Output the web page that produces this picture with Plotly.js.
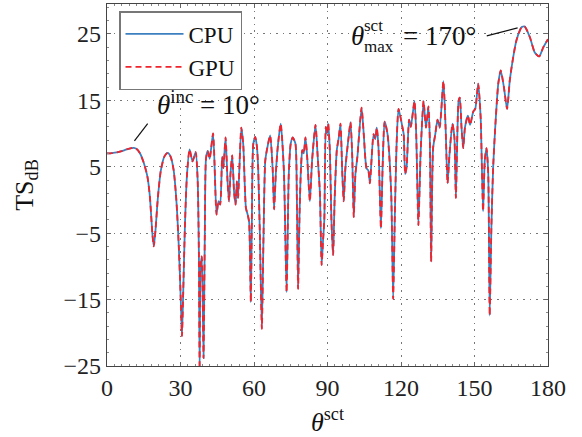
<!DOCTYPE html>
<html>
<head>
<meta charset="utf-8">
<script src="https://cdn.plot.ly/plotly-3.0.1.min.js"></script>
<style>html,body{margin:0;padding:0;background:#fff;}#chart{width:582px;height:437px;}</style>
</head>
<body>
<div id="chart"></div>
<script>
// scattering angle (deg)
const thetaSct = [
 0,2,4,6,8,10,11,12,13.5,15,16.5,17.5,18.5,19.1,19.8,20.8,22,23.5,24.8,26,27.2,28.3,29.3,30.2,30.6,31.1,31.8,32.6,33.7,34.9,36.2,37.0,37.5,37.8,38.2,38.7,39.4,39.9,
 40.4,41.1,41.9,43.3,44.7,45.5,46.2,47.0,47.5,48.4,49.2,49.8,50.4,51.1,51.9,52.5,53.0,53.5,54.8,55.6,56.7,57.4,58.0,58.7,59.1,59.7,60.5,61.2,61.7,62.4,63.2,63.9,64.6,65.5,66.6,67.6,68.2,68.9,69.7,70.9,
 72.2,73.3,74.2,75.0,75.8,76.9,77.5,78.0,78.6,79.2,79.7,80.3,81.0,81.7,82.8,83.7,85.1,86.0,86.9,87.6,88.2,88.7,89.3,89.8,90.3,91.0,91.6,92.3,92.9,93.8,94.6,95.3,96.0,96.6,97.3,98.6,99.4,100.1,100.7,101.4,102.2,103.9,104.8,105.9,106.7,107.3,108.8,109.5,110.1,110.8,111.8,112.5,113.3,114.5,116.0,116.8,117.5,118.2,119.0,120.6,121.1,121.7,122.3,123.3,124.0,125.5,126.2,127.1,128.0,129.2,130.2,131.2,131.8,132.3,133.1,134.0,134.9,135.8,137.3,138.2,139.0,139.8,141.0,141.8,142.4,143.5,144.0,144.7,145.4,146.1,147.3,148.2,149.5,150.3,151.5,152.5,153.5,154.2,154.9,155.6,156.2,156.9,157.6,158.3,159.7,160.7,162.0,163.3,164.4,165.8,167.1,169.2,170.5,172.6,174.6,176.4,178.1,180
];
// target strength, CPU solver (dB)
const tsCPU = [
 7.0,7.05,7.15,7.35,7.6,7.8,7.85,7.7,7.0,5.6,3.5,0.5,-5,-7.0,-4.5,0.5,4.5,6.6,7.1,6.5,4.5,0,-7,-16,-20.5,-14,-4,3.5,7.6,5.8,7.2,3,-8,-25.5,-10,-8.5,-23.8,-6,
 6.2,7.4,6.2,10,-2.2,-0.2,-0.7,6.5,4.8,9.4,2.8,-0.2,3.9,6.7,1,-0.7,2.8,0.3,10.9,8.4,-1.2,-2.2,-3.3,-15.4,-4,8.4,9.5,8,4.8,-5.3,-19.4,-5,5.9,8,9.7,4.8,-1.4,3.9,8,11.5,
 4.4,-13.9,3.9,8.5,9.4,8.5,0,-13.4,-2,5,7.5,7,9.4,6.5,-0.2,5.9,11.3,6.5,1,-9.8,-6,-3,11,10,11.5,7,-3,-8.3,0,7.5,9.4,11.5,4.4,-0.2,4.8,9.4,11.7,6.5,-2.6,3.9,6.5,13.9,9.9,4.8,4.4,2.5,9.9,9.2,10.9,8,-4.3,5,11.8,9.9,1,-14.9,-2,8.4,13.7,10.9,9.9,3.9,5,12.1,11,14.9,10,-3.8,7,14.9,10.9,14.1,8.5,-9.3,7.8,9.9,12.1,10.9,17.9,10.9,2.5,6.9,11.5,9.4,0.3,14.9,15.4,10.9,7.8,10.9,12.7,11.3,13.3,13.7,17.5,12.5,-1.7,6,7.8,4,-17.4,-4,4.8,9.9,17.5,19.5,17,13.7,18,21.5,24,26,26.1,24.5,22.2,21.6,23,24.2
];
// target strength, GPU solver (dB) - identical to CPU within plotting accuracy
const tsGPU = tsCPU.slice();

const seriesNames = ["CPU", "GPU"];
const xTicks = [0, 30, 60, 90, 120, 150, 180];
const yTicks = [-25, -15, -5, 5, 15, 25];

const serif = "Liberation Serif, Times New Roman, serif";
const W = 582, H = 437, L = 107, R = 34, T = 4, B = 71;
const pw = W - L - R, ph = H - T - B;
const px = v => (v - L) / pw;
const py = v => (H - B - v) / ph;

const traces = [
  {x: thetaSct, y: tsCPU, name: seriesNames[0], type: "scatter", mode: "lines",
   line: {color: "#3d80c0", width: 1.8, shape: "spline", smoothing: 0.6}},
  {x: thetaSct, y: tsGPU, name: seriesNames[1], type: "scatter", mode: "lines",
   line: {color: "#f0242c", width: 1.8, dash: "6px,4px", shape: "spline", smoothing: 0.6}}
];

const axisCommon = {
  showline: true, linecolor: "#444", linewidth: 1.2, mirror: "ticks",
  ticks: "inside", ticklen: 4, tickcolor: "#666", tickwidth: 1,
  showgrid: true, gridcolor: "#777", gridwidth: 1, griddash: "1.5px,5px",
  zeroline: false, tickfont: {family: serif, size: 24, color: "#222"}
};

const layout = {
  width: W, height: H,
  margin: {l: L, r: R, t: T, b: B},
  paper_bgcolor: "#fff", plot_bgcolor: "#fff",
  showlegend: true,
  legend: {x: px(119), y: py(11), xanchor: "left", yanchor: "top",
    bgcolor: "#fff", bordercolor: "#777", borderwidth: 1.5, itemwidth: 58,
    font: {family: serif, size: 23, color: "#111"}, tracegroupgap: 0},
  xaxis: Object.assign({}, axisCommon, {
    range: [0, 180], tickvals: xTicks, ticktext: xTicks.map(String),
    minor: {ticks: "inside", ticklen: 2, dtick: 3, tickcolor: "#888", showgrid: false},
    title: {text: "<i>θ</i><sup>sct</sup>", font: {family: serif, size: 26, color: "#111"}, standoff: 19}
  }),
  yaxis: Object.assign({}, axisCommon, {
    range: [-25, 29.5], tickvals: yTicks, ticktext: yTicks.map(v => v < 0 ? "\u2212" + Math.abs(v) : String(v)),
    minor: {ticks: "inside", ticklen: 2, tick0: -25, dtick: 2, tickcolor: "#888", showgrid: false},
    title: {text: "TS<sub>dB</sub>", font: {family: serif, size: 26, color: "#111"}, standoff: 22}
  }),
  shapes: [
    {type: "line", xref: "x", yref: "y", x0: 11.2, y0: 8.9, x1: 16.6, y1: 11.5, line: {color: "#111", width: 1.2}},
    {type: "line", xref: "x", yref: "y", x0: 155, y0: 24.7, x1: 167.6, y1: 25.9, line: {color: "#111", width: 1.2}}
  ],
  annotations: [
    {xref: "paper", yref: "paper", x: px(155), y: py(103), xanchor: "left", yanchor: "middle", showarrow: false,
     text: "<i>θ</i><sup>inc</sup> = 10°", font: {family: serif, size: 27, color: "#111"}},
    {xref: "paper", yref: "paper", x: px(349), y: py(36), xanchor: "left", yanchor: "middle", showarrow: false,
     text: "<i>θ</i>", font: {family: serif, size: 27, color: "#111"}},
    {xref: "paper", yref: "paper", x: px(362), y: py(25), xanchor: "left", yanchor: "middle", showarrow: false,
     text: "sct", font: {family: serif, size: 17, color: "#111"}},
    {xref: "paper", yref: "paper", x: px(362), y: py(47), xanchor: "left", yanchor: "middle", showarrow: false,
     text: "max", font: {family: serif, size: 17, color: "#111"}},
    {xref: "paper", yref: "paper", x: px(401), y: py(36), xanchor: "left", yanchor: "middle", showarrow: false,
     text: "= 170°", font: {family: serif, size: 27, color: "#111"}}
  ]
};

Plotly.newPlot("chart", traces, layout, {displayModeBar: false, staticPlot: true});
</script>
</body>
</html>
